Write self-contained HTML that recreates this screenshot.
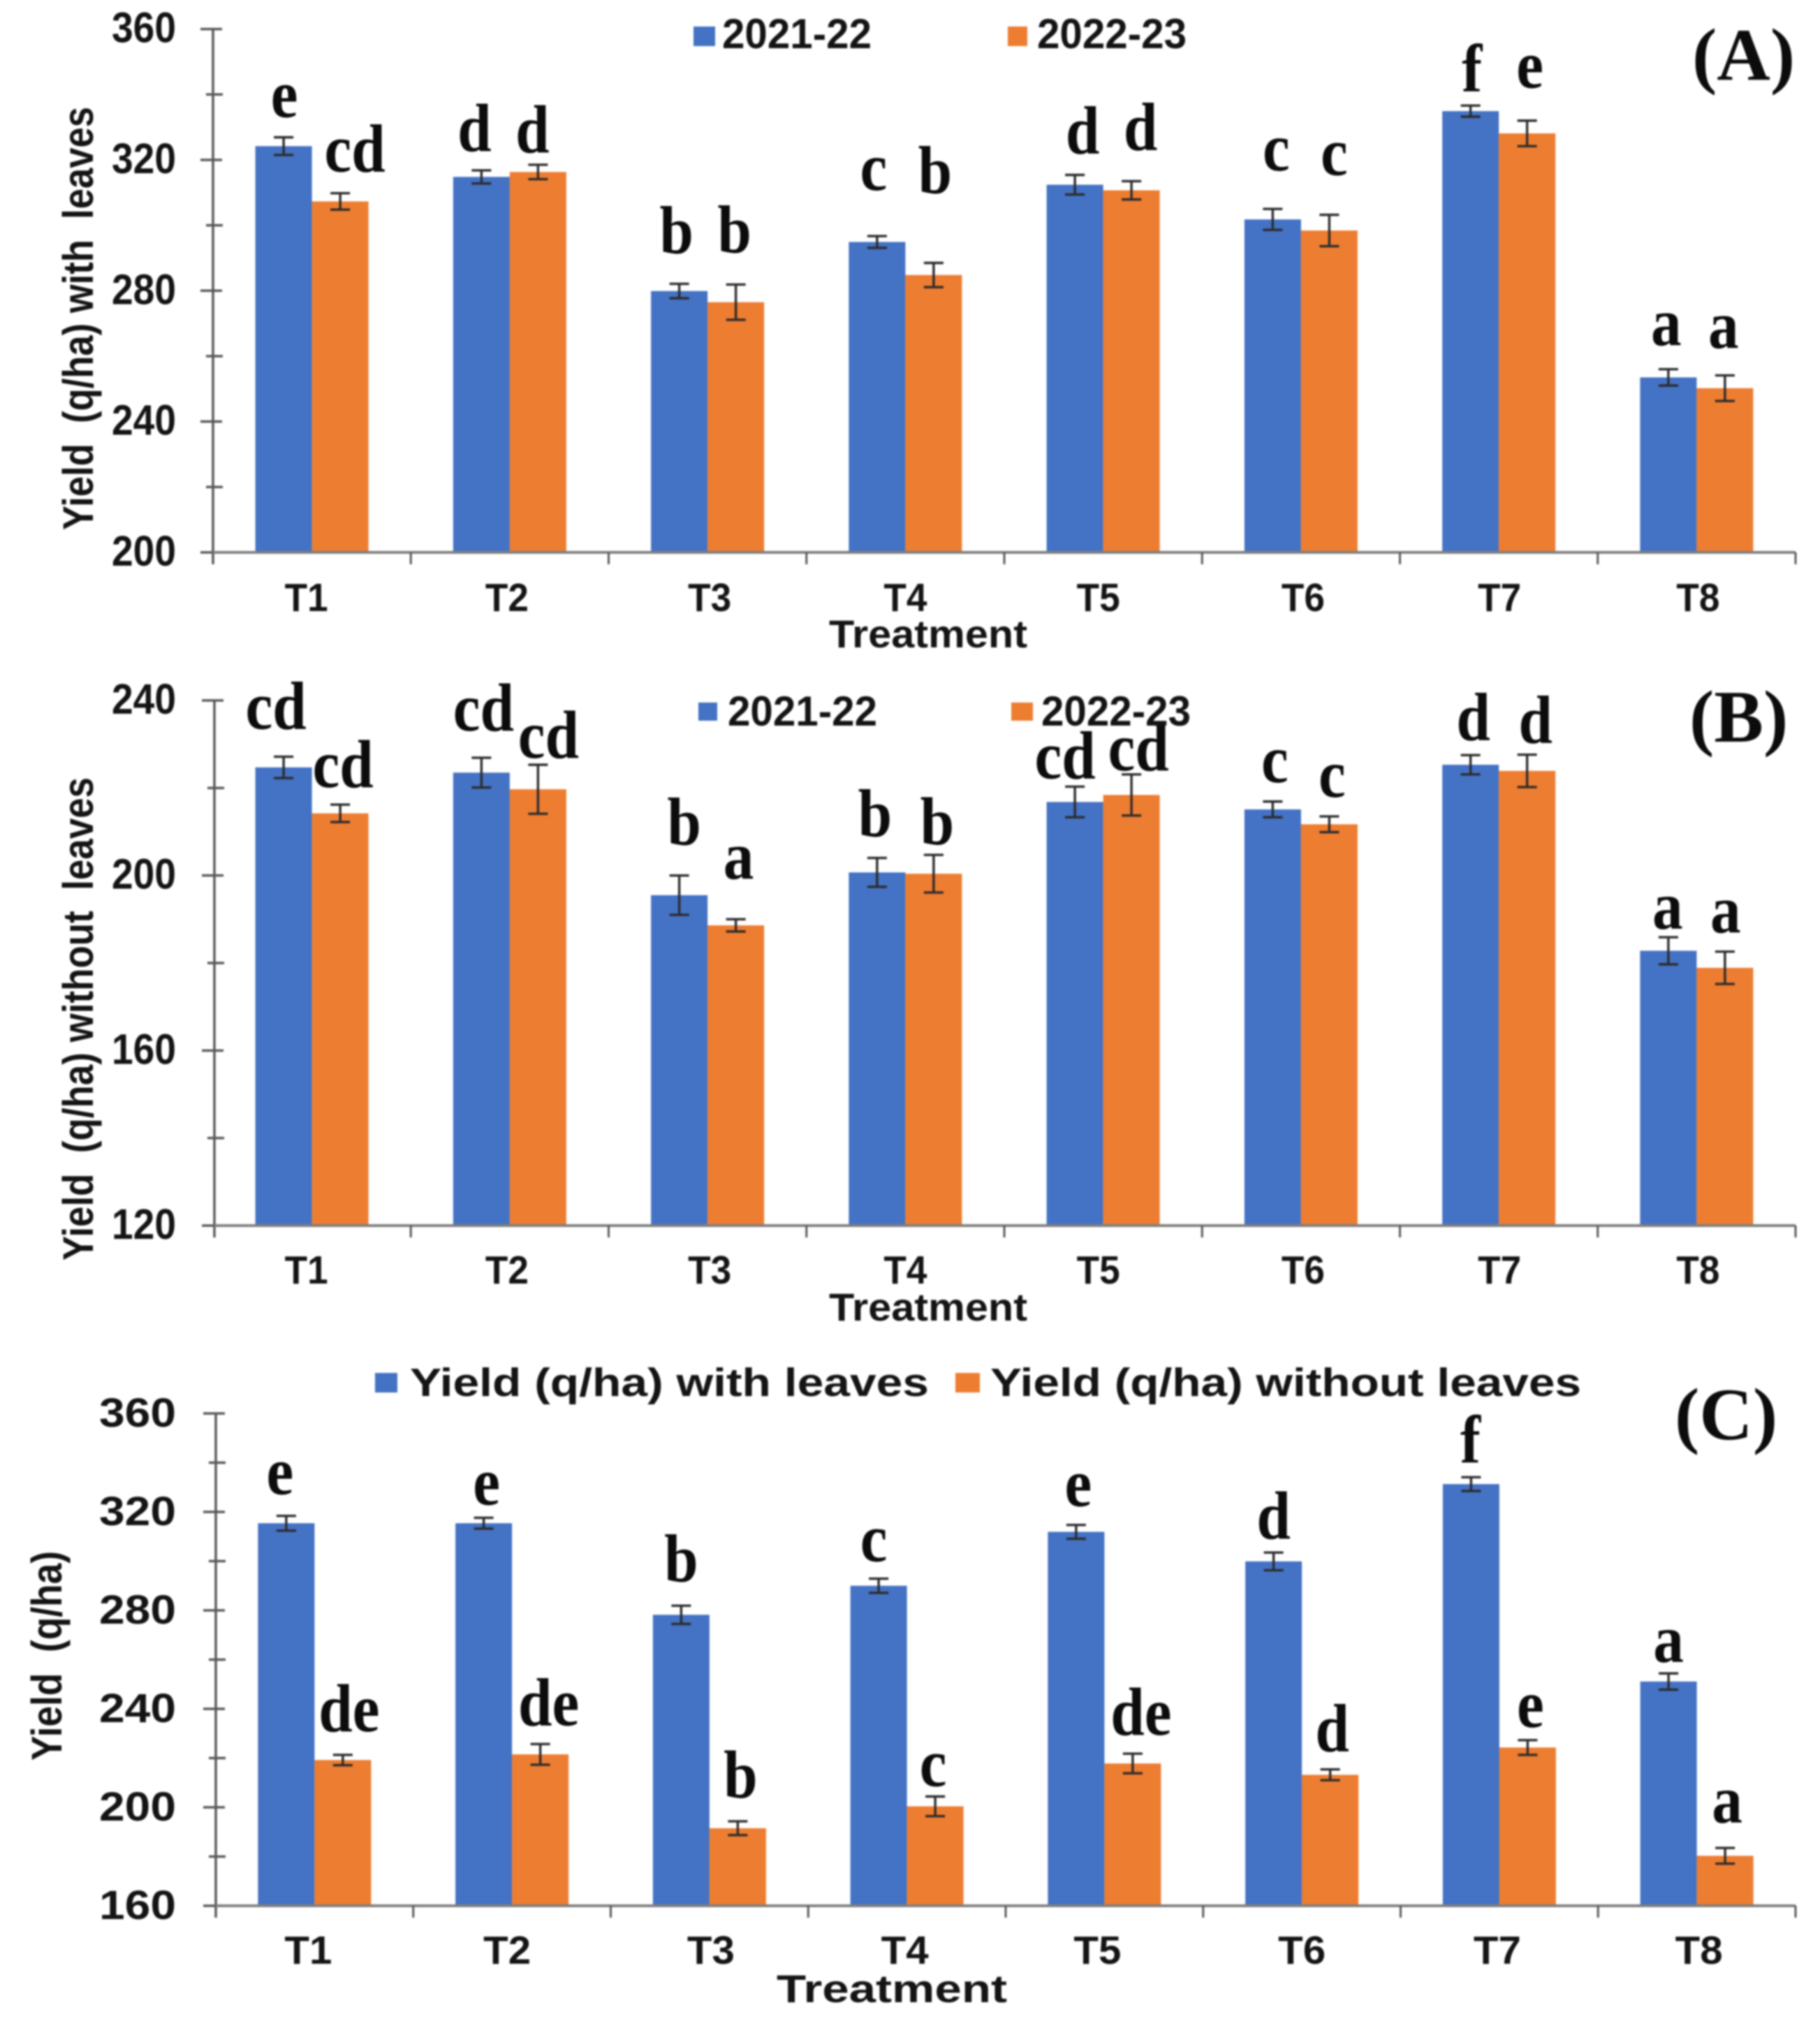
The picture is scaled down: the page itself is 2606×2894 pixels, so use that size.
<!DOCTYPE html>
<html lang="en">
<head>
<meta charset="utf-8">
<title>Yield by treatment</title>
<style>
html,body{margin:0;padding:0;background:#fff;width:2606px;height:2894px;overflow:hidden}
svg{display:block;filter:blur(1.2px)}
text{font-family:"Liberation Sans",Arial,sans-serif;fill:#141414}
.sans{font-weight:bold}
.letter{font-family:"Liberation Serif","Times New Roman",serif;font-weight:bold;font-size:97px;fill:#0c0c0c}
.panel-tag{font-family:"Liberation Serif","Times New Roman",serif;font-weight:bold;font-size:106px;fill:#0c0c0c}
</style>
</head>
<body>
<svg id="fig" xmlns="http://www.w3.org/2000/svg" width="2606" height="2894" viewBox="0 0 2606 2894"></svg>
<script>
const categories = ['T1','T2','T3','T4','T5','T6','T7','T8'];

// Panel A: yield with leaves
const tickLabelsA = [200,240,280,320,360];
const minorTicksA = [220,260,300,340];
const yieldA2021 = [324.2,314.8,279.9,294.9,312.4,301.8,334.9,253.5];
const yieldA2022 = [307.3,316.3,276.5,284.8,310.7,298.4,328.1,250.2];
const errorA2021 = [2.7,2.0,2.2,1.8,3.0,3.2,1.7,2.5];
const errorA2022 = [2.5,2.2,5.4,3.7,2.8,4.8,3.9,3.9];
const lettersA2021 = ['e','d','b','c','d','c','f','a'];
const lettersA2022 = ['cd','d','b','b','d','c','e','a'];

// Panel B: yield without leaves
const tickLabelsB = [120,160,200,240];
const minorTicksB = [140,180,220];
const yieldB2021 = [224.7,223.5,195.5,200.7,216.8,215.1,225.3,182.8];
const yieldB2022 = [214.2,219.7,188.6,200.4,218.4,211.7,223.9,178.9];
const errorB2021 = [2.45,3.4,4.5,3.3,3.5,1.8,2.2,3.1];
const errorB2022 = [2.0,5.6,1.4,4.3,4.7,1.8,3.7,3.7];
const lettersB2021 = ['cd','cd','b','b','cd','c','d','a'];
const lettersB2022 = ['cd','cd','a','b','cd','c','d','a'];

// Panel C: pooled yield
const tickLabelsC = [160,200,240,280,320,360];
const minorTicksC = [180,220,260,300,340];
const yieldCWith = [315.4,315.4,278.2,290.0,311.9,299.9,331.3,251.1];
const yieldCWithout = [219.2,221.5,191.5,200.4,217.8,213.2,224.3,180.3];
const errorCWith = [3.0,2.2,3.7,2.9,2.8,3.6,2.8,3.3];
const errorCWithout = [2.1,4.2,2.8,4.0,4.0,2.2,3.0,3.2];
const lettersCWith = ['e','e','b','c','e','d','f','a'];
const lettersCWithout = ['de','de','b','c','de','d','e','a'];

// Annotation placement relative to each bar's error cap (layout, not data)
const liftA1 = [29,28,44,66,31,55,20,34];
const liftA2 = [31,18,46,100,45,57,47,39];
const nudgeA1 = [1,-10,-4,-5,11,5,2,-3];
const nudgeA2 = [21,-8,-2,2,13,7,4,-2];
const liftB1 = [40,39,44,31,12,28,22,12];
const liftB2 = [25,10,58,15,6,28,17,27];
const nudgeB1 = [-11,3,7,-3,-14,3,4,-1];
const nudgeB2 = [4,15,4,5,10,4,12,1];
const liftC1 = [31,19,35,25,27,20,21,16];
const liftC2 = [34,27,34,15,27,26,19,36];
const nudgeC1 = [-9,4,0,-7,3,0,-1,0];
const nudgeC2 = [9,12,4,-3,12,3,4,3];
const catNudgeAB = [-8,-4,3,0,-7,3,1,2];
const catNudgeC = [-9,-7,2,-3,-10,0,-3,3];

const BLUE = '#4472C4';
const ORANGE = '#ED7D31';
const SVG_NS = 'http://www.w3.org/2000/svg';
const fig = document.getElementById('fig');

function shape(tag, props, parent) {
  const el = document.createElementNS(SVG_NS, tag);
  for (const k in props) el.setAttribute(k, props[k]);
  parent.appendChild(el);
  return el;
}

function label(str, props, parent) {
  const el = shape('text', props, parent);
  el.textContent = str;
  return el;
}

function drawPanel(p) {
  const g = shape('g', {}, fig);
  
  

  const y = v => p.bottom - (v - p.min) / (p.max - p.min) * (p.bottom - p.top);
  const band = (p.right - p.bandLeft) / categories.length;
  const xCenter = i => p.bandLeft + band * (i + 0.5);
  const barW = 81;

  // bars
  p.series.forEach((s, si) => {
    s.values.forEach((v, i) => {
      const bx = xCenter(i) + (si === 0 ? -barW : 0);
      const r = shape('rect', {x: bx, y: y(v), width: barW, height: p.bottom - y(v), fill: s.color}, g);
      
      
    });
  });

  // y axis
  const yAxis = shape('line', {x1: p.left, x2: p.left, y1: p.top, y2: p.bottom + 17, stroke: '#595959', 'stroke-width': 3.5}, g);
  
  

  p.ticks.forEach(t => {
    const tk = shape('line', {x1: p.left - 18, x2: p.left + 13, y1: y(t), y2: y(t), stroke: '#595959', 'stroke-width': 3.5}, g);
    
    
    const tl = label(String(t), {x: 252, y: y(t) + 19, 'text-anchor': 'end', 'font-size': p.tickFont, class: 'sans', textLength: p.tickLen, lengthAdjust: 'spacingAndGlyphs'}, g);
    
    
  });
  p.minor.forEach(t => {
    const tk = shape('line', {x1: p.left - 10, x2: p.left + 14, y1: y(t), y2: y(t), stroke: '#595959', 'stroke-width': 3.5}, g);
    
    
  });

  // x axis
  const xAxis = shape('line', {x1: p.left, x2: p.right, y1: p.bottom, y2: p.bottom, stroke: '#7f7f7f', 'stroke-width': 4}, g);
  
  
  for (let i = 1; i <= categories.length; i++) {
    const ex = p.bandLeft + band * i;
    const tk = shape('line', {x1: ex, x2: ex, y1: p.bottom, y2: p.bottom + 17, stroke: '#595959', 'stroke-width': 3}, g);
    
    
  }
  categories.forEach((c, i) => {
    const tl = label(c, {x: xCenter(i) + p.catNudge[i], y: p.catBase, 'text-anchor': 'middle', 'font-size': 57, class: 'sans', textLength: p.catLen, lengthAdjust: 'spacingAndGlyphs'}, g);
    
    
  });

  // error bars and significance letters
  p.series.forEach((s, si) => {
    s.values.forEach((v, i) => {
      const cx = xCenter(i) + (si === 0 ? -barW / 2 : barW / 2);
      const yTop = y(v + s.errors[i]);
      const yBot = y(v - s.errors[i]);
      const d = 'M' + (cx - 14) + ' ' + yTop + 'H' + (cx + 14) + 'M' + cx + ' ' + yTop + 'V' + yBot + 'M' + (cx - 14) + ' ' + yBot + 'H' + (cx + 14);
      const eb = shape('path', {d: d, stroke: '#2b2b2b', 'stroke-width': 3.4, fill: 'none'}, g);
      
      
      const lt = label(s.letters[i], {x: cx + s.nudge[i], y: yTop - s.lift[i], 'text-anchor': 'middle', class: 'letter'}, g);
      
      
      lt.setAttribute('textLength', lt.getComputedTextLength() * 0.9);
      lt.setAttribute('lengthAdjust', 'spacingAndGlyphs');
    });
  });

  // axis titles
  const yt = label(p.yTitle, {transform: 'translate(' + p.yTitleX + ' ' + p.yTitleStart + ') rotate(-90)', 'font-size': 61, class: 'sans', textLength: p.yTitleLen, lengthAdjust: 'spacingAndGlyphs', style: 'white-space:pre'}, g);
  
  
  const xt = label('Treatment', {x: p.xTitleX, y: p.xTitleBase, 'font-size': 56, class: 'sans', textLength: p.xTitleLen, lengthAdjust: 'spacingAndGlyphs'}, g);
  
  

  // legend
  p.legend.forEach((item, li) => {
    const sw = shape('rect', {x: item.sx, y: item.sy, width: item.sw, height: item.sh, fill: p.series[li].color}, g);
    
    
    const lt = label(item.text, {x: item.tx, y: item.ty, 'font-size': p.legendFont, class: 'sans', textLength: item.tl, lengthAdjust: 'spacingAndGlyphs'}, g);
    
    
  });

  // panel tag
  const tag = label('(' + p.id.toUpperCase() + ')', {x: p.tagX, y: p.tagY, class: 'panel-tag'}, g);
  
  
}

drawPanel({
  id: 'a', left: 305, bandLeft: 305, right: 2571, top: 41.6, bottom: 791, min: 200, max: 360,
  ticks: tickLabelsA, minor: minorTicksA, tickFont: 61, tickLen: 92, catNudge: catNudgeAB, catBase: 875, catLen: 62,
  yTitle: 'Yield  (q/ha) with  leaves', yTitleX: 133, yTitleStart: 759, yTitleLen: 606,
  xTitleX: 1187, xTitleBase: 927, xTitleLen: 284,
  tagX: 2423, tagY: 114, legendFont: 60,
  series: [
    {key: '2021-22', color: BLUE, values: yieldA2021, errors: errorA2021, letters: lettersA2021, lift: liftA1, nudge: nudgeA1},
    {key: '2022-23', color: ORANGE, values: yieldA2022, errors: errorA2022, letters: lettersA2022, lift: liftA2, nudge: nudgeA2}
  ],
  legend: [
    {text: '2021-22', sx: 993, sy: 38, sw: 31, sh: 28, tx: 1034, ty: 69, tl: 214},
    {text: '2022-23', sx: 1443, sy: 38, sw: 28, sh: 28, tx: 1485, ty: 69, tl: 214}
  ]
});

drawPanel({
  id: 'b', left: 307, bandLeft: 305, right: 2571, top: 1003, bottom: 1755, min: 120, max: 240,
  ticks: tickLabelsB, minor: minorTicksB, tickFont: 61, tickLen: 92, catNudge: catNudgeAB, catBase: 1838, catLen: 62,
  yTitle: 'Yield  (q/ha) without  leaves', yTitleX: 133, yTitleStart: 1805, yTitleLen: 692,
  xTitleX: 1187, xTitleBase: 1891, xTitleLen: 284,
  tagX: 2419, tagY: 1062, legendFont: 60,
  series: [
    {key: '2021-22', color: BLUE, values: yieldB2021, errors: errorB2021, letters: lettersB2021, lift: liftB1, nudge: nudgeB1},
    {key: '2022-23', color: ORANGE, values: yieldB2022, errors: errorB2022, letters: lettersB2022, lift: liftB2, nudge: nudgeB2}
  ],
  legend: [
    {text: '2021-22', sx: 1000, sy: 1006, sw: 27, sh: 26, tx: 1042, ty: 1039, tl: 214},
    {text: '2022-23', sx: 1448, sy: 1006, sw: 31, sh: 26, tx: 1491, ty: 1039, tl: 214}
  ]
});

drawPanel({
  id: 'c', left: 309, bandLeft: 309, right: 2571, top: 2024, bottom: 2729, min: 160, max: 360,
  ticks: tickLabelsC, minor: minorTicksC, tickFont: 58, tickLen: 110, catNudge: catNudgeC, catBase: 2812, catLen: 68,
  yTitle: 'Yield  (q/ha)', yTitleX: 88, yTitleStart: 2521, yTitleLen: 300,
  xTitleX: 1112, xTitleBase: 2867, xTitleLen: 330,
  tagX: 2398, tagY: 2061, legendFont: 57,
  series: [
    {key: 'with-leaves', color: BLUE, values: yieldCWith, errors: errorCWith, letters: lettersCWith, lift: liftC1, nudge: nudgeC1},
    {key: 'without-leaves', color: ORANGE, values: yieldCWithout, errors: errorCWithout, letters: lettersCWithout, lift: liftC2, nudge: nudgeC2}
  ],
  legend: [
    {text: 'Yield (q/ha) with leaves', sx: 537, sy: 1966, sw: 32, sh: 28, tx: 587, ty: 1999, tl: 743},
    {text: 'Yield (q/ha) without leaves', sx: 1368, sy: 1966, sw: 35, sh: 28, tx: 1418, ty: 1999, tl: 846}
  ]
});
</script>
</body>
</html>
